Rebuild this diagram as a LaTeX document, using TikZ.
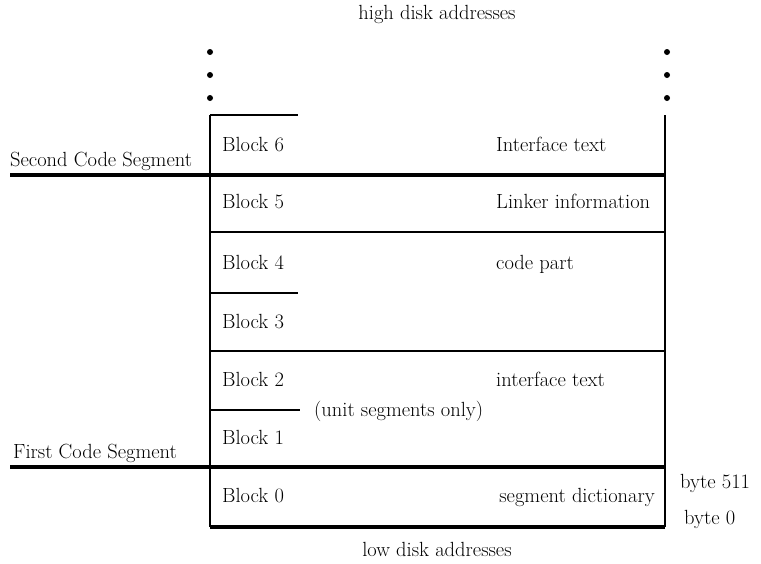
\documentclass[tikz,border=0pt]{standalone}
\begin{document}
\begin{tikzpicture}[x=1pt,y=-1pt,
  lbl/.style={inner sep=0pt,font=\fontsize{20.5}{23}\selectfont},
  rule/.style={line width=2pt},
  heavy/.style={line width=3.2pt},
  dot/.style={circle,fill=black,inner sep=0pt,minimum size=6pt}]
\useasboundingbox (0,0) rectangle (761,563);
% frame of the block stack
\coordinate (tl) at (210,115);
\coordinate (tr) at (665,115);
\coordinate (bl) at (210,527);
\coordinate (br) at (665,527);
\draw[rule] (tl) -- (bl);
\draw[rule] (tr) -- (br);
\draw[heavy] (bl) -- (br);
\draw[rule] (tl) -- (298,115);
% segment boundaries
\draw[heavy] (10,175) -- (665,175);
\draw[heavy] (10,467) -- (665,467);
% block boundaries
\draw[rule] (210,232) -- (665,232);
\draw[rule] (210,351) -- (665,351);
\draw[rule] (210,293) -- (298,293);
\draw[rule] (210,410) -- (300,410);
% continuation dots
\foreach \yy in {52,75,98} {
  \node[dot] at (210,\yy) {};
  \node[dot] at (667,\yy) {};
}
% captions
\node[lbl] (hi) at (437,14) {high disk addresses};
\node[lbl] (lo) at (437,549) {low disk addresses};
\node[lbl,anchor=base west] (s2) at (10,166) {Second Code Segment};
\node[lbl,anchor=base west] (s1) at (13,458) {First Code Segment};
\node[lbl,anchor=base west] (b511) at (680,488) {byte 511};
\node[lbl,anchor=base west] (b0) at (684,524) {byte 0};
% block names
\foreach \n/\yy in {6/151,5/208,4/269,3/328,2/386,1/444,0/502}
  \node[lbl,anchor=base west] (blk\n) at (222,\yy) {Block \n};
% contents
\node[lbl,anchor=base west] (c6) at (496,151) {Interface text};
\node[lbl,anchor=base west] (c5) at (496,208) {Linker information};
\node[lbl,anchor=base west] (c4) at (496,269) {code part};
\node[lbl,anchor=base west] (c2) at (496,386) {interface text};
\node[lbl,anchor=base east] (c0) at (655,502) {segment dictionary};
\node[lbl,anchor=base west] (u) at (314,416) {(unit segments only)};
\end{tikzpicture}
\end{document}
